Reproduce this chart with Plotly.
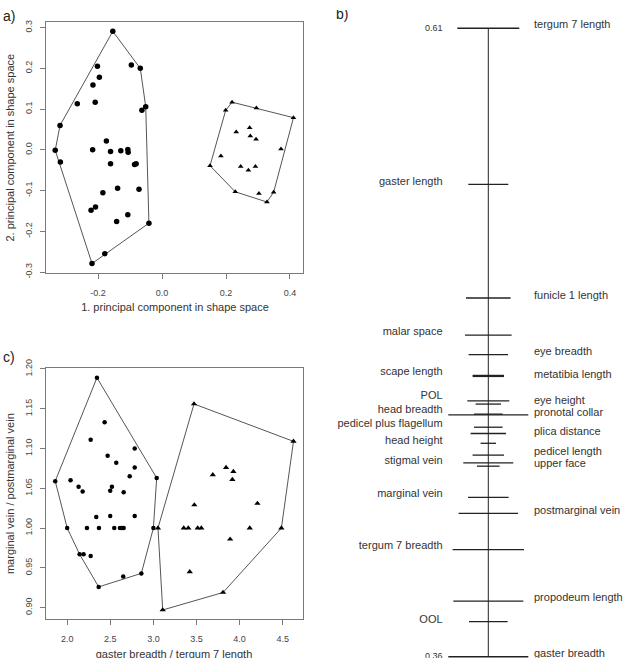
import plotly.graph_objects as go

# ---------------- Panel a: PCA shape space ----------------
a_circ_x = [-0.154, -0.202, -0.096, -0.068, -0.196, -0.216, -0.209, -0.265, -0.051, -0.063,
            -0.319, -0.334, -0.318, -0.217, -0.174, -0.161, -0.129, -0.107, -0.106, -0.161,
            -0.086, -0.081, -0.139, -0.072, -0.185, -0.208, -0.222, -0.107, -0.142, -0.041,
            -0.179, -0.219]
a_circ_y = [0.291, 0.205, 0.208, 0.200, 0.178, 0.159, 0.117, 0.113, 0.106, 0.097,
            0.060, -0.001, -0.030, 0.000, 0.022, -0.004, -0.002, 0.001, -0.006, -0.034,
            -0.036, -0.034, -0.094, -0.097, -0.105, -0.140, -0.148, -0.159, -0.176, -0.180,
            -0.255, -0.279]
a_tri_x = [0.219, 0.295, 0.411, 0.199, 0.274, 0.232, 0.276, 0.294, 0.372, 0.184,
           0.150, 0.246, 0.270, 0.292, 0.229, 0.303, 0.349, 0.328]
a_tri_y = [0.117, 0.103, 0.079, 0.097, 0.054, 0.044, 0.034, 0.026, 0.002, -0.015,
           -0.039, -0.041, -0.050, -0.041, -0.103, -0.107, -0.104, -0.128]
a_xticks = [-0.2, 0.0, 0.2, 0.4]
a_xticklabels = ["-0.2", "0.0", "0.2", "0.4"]
a_yticks = [-0.3, -0.2, -0.1, 0.0, 0.1, 0.2, 0.3]
a_yticklabels = ["-0.3", "-0.2", "-0.1", "0.0", "0.1", "0.2", "0.3"]

# ---------------- Panel c: ratio plot ----------------
c_circ_x = [2.345, 2.434, 2.272, 2.783, 2.469, 2.569, 2.783, 2.725, 3.038, 1.861,
            2.039, 2.132, 2.519, 2.179, 2.499, 2.655, 2.337, 2.499, 2.783, 2.000,
            2.229, 2.368, 2.546, 2.612, 2.635, 2.655, 3.000, 2.144, 2.190, 2.272,
            2.650, 2.860, 2.365]
c_circ_y = [1.189, 1.133, 1.111, 1.100, 1.091, 1.082, 1.076, 1.065, 1.063, 1.059,
            1.060, 1.052, 1.052, 1.046, 1.047, 1.045, 1.014, 1.015, 1.015, 1.000,
            1.000, 1.000, 1.000, 1.000, 1.000, 1.000, 1.000, 0.967, 0.967, 0.965,
            0.939, 0.943, 0.926]
c_tri_x = [3.471, 4.625, 3.843, 3.928, 3.689, 3.916, 4.207, 3.475, 3.053, 3.352,
           3.405, 3.514, 3.556, 4.118, 4.485, 3.890, 3.422, 3.808, 3.108]
c_tri_y = [1.156, 1.109, 1.076, 1.071, 1.067, 1.061, 1.031, 1.029, 1.000, 1.000,
           1.000, 1.000, 1.000, 1.000, 1.000, 0.986, 0.945, 0.919, 0.897]
c_xticks = [2.0, 2.5, 3.0, 3.5, 4.0, 4.5]
c_xticklabels = ["2.0", "2.5", "3.0", "3.5", "4.0", "4.5"]
c_yticks = [0.90, 0.95, 1.00, 1.05, 1.10, 1.15, 1.20]
c_yticklabels = ["0.90", "0.95", "1.00", "1.05", "1.10", "1.15", "1.20"]

# ---------------- Panel b: ladder of variables ----------------
b_names = ["tergum 7 length", "gaster length", "funicle 1 length", "malar space", "eye breadth",
           "scape length", "metatibia length", "POL", "eye height", "head breadth",
           "pronotal collar", "pedicel plus flagellum", "plica distance", "head height",
           "pedicel length", "stigmal vein", "upper face", "marginal vein", "postmarginal vein",
           "tergum 7 breadth", "propodeum length", "OOL", "gaster breadth"]
b_values = [0.610, 0.5479, 0.5027, 0.4879, 0.4802,
            0.4719, 0.4715, 0.4618, 0.4605, 0.4565,
            0.4562, 0.4513, 0.4488, 0.4449,
            0.4402, 0.4371, 0.4358, 0.4234, 0.4170,
            0.4026, 0.3821, 0.3740, 0.360]
b_spread = [31, 20, 22.3, 23.3, 19.7,
            15.7, 15.7, 21, 12.7, 14.3,
            40, 14.3, 17.7, 7.7,
            15.7, 25, 11.3, 20.3, 29.7,
            35.7, 35, 19.3, 40]
b_side = ["R", "L", "R", "L", "R", "L", "R", "L", "R", "L", "R", "L", "R", "L",
          "R", "L", "R", "L", "R", "L", "R", "L", "R"]
b_label_at = [0.6110, 0.5489, 0.5034, 0.4889, 0.4811,
              0.4732, 0.4720, 0.4635, 0.4616, 0.4581,
              0.4568, 0.4523, 0.4491, 0.4458,
              0.4413, 0.4378, 0.4364, 0.4247, 0.4180,
              0.4038, 0.3833, 0.3744, 0.3611]
b_scale_labels = ["0.61", "0.36"]

FONT = "Liberation Sans, Arial, sans-serif"
TXT = "#333333"
FRAME = "#7a7a7a"
HULL = "#555555"
W, H = 625, 664


def hull(xs, ys):
    pts = sorted(set(zip(xs, ys)))

    def cross(o, a, b):
        return (a[0] - o[0]) * (b[1] - o[1]) - (a[1] - o[1]) * (b[0] - o[0])

    lower, upper = [], []
    for p in pts:
        while len(lower) >= 2 and cross(lower[-2], lower[-1], p) <= 0:
            lower.pop()
        lower.append(p)
    for p in reversed(pts):
        while len(upper) >= 2 and cross(upper[-2], upper[-1], p) <= 0:
            upper.pop()
        upper.append(p)
    h = lower[:-1] + upper[:-1]
    h.append(h[0])
    return [p[0] for p in h], [p[1] for p in h]


def pad(vals, f=0.04):
    lo, hi = min(vals), max(vals)
    d = (hi - lo) * f
    return [lo - d, hi + d]


fig = go.Figure()

# Panel a
for xs, ys, sym, sz in [(a_circ_x, a_circ_y, "circle", 5.5), (a_tri_x, a_tri_y, "triangle-up", 5)]:
    hx, hy = hull(xs, ys)
    fig.add_trace(go.Scatter(x=hx, y=hy, mode="lines", line=dict(color=HULL, width=1),
                             xaxis="x", yaxis="y", hoverinfo="skip"))
    fig.add_trace(go.Scatter(x=xs, y=ys, mode="markers",
                             marker=dict(symbol=sym, size=sz, color="black", line=dict(width=0)),
                             xaxis="x", yaxis="y"))

# Panel c
for xs, ys, sym, sz in [(c_circ_x, c_circ_y, "circle", 4.5), (c_tri_x, c_tri_y, "triangle-up", 5.5)]:
    hx, hy = hull(xs, ys)
    fig.add_trace(go.Scatter(x=hx, y=hy, mode="lines", line=dict(color=HULL, width=1),
                             xaxis="x2", yaxis="y2", hoverinfo="skip"))
    fig.add_trace(go.Scatter(x=xs, y=ys, mode="markers",
                             marker=dict(symbol=sym, size=sz, color="black", line=dict(width=0)),
                             xaxis="x2", yaxis="y2"))

# Panel b (x3 axis in pixel-like units, centre line at 0)
seg_x, seg_y = [], []
for v, s in zip(b_values, b_spread):
    seg_x += [-s, s, None]
    seg_y += [v, v, None]
fig.add_trace(go.Scatter(x=seg_x, y=seg_y, mode="lines", line=dict(color="#222222", width=1.3),
                         xaxis="x3", yaxis="y3", hoverinfo="skip"))
fig.add_trace(go.Scatter(x=[0, 0], y=[max(b_values), min(b_values)], mode="lines",
                         line=dict(color="#222222", width=1), xaxis="x3", yaxis="y3"))

LOFF = 45.7
for side, pos in [("L", "middle left"), ("R", "middle right")]:
    names = [n for n, s in zip(b_names, b_side) if s == side]
    ys = [l for l, s in zip(b_label_at, b_side) if s == side]
    fig.add_trace(go.Scatter(x=[(-LOFF if side == "L" else LOFF)] * len(names), y=ys,
                             mode="text", text=names, textposition=pos,
                             textfont=dict(family=FONT, size=11, color=TXT),
                             xaxis="x3", yaxis="y3", cliponaxis=True))
fig.add_trace(go.Scatter(x=[-LOFF, -LOFF], y=[max(b_values), min(b_values)], mode="text",
                         text=b_scale_labels, textposition="middle left",
                         textfont=dict(family=FONT, size=9, color=TXT),
                         xaxis="x3", yaxis="y3", cliponaxis=True))

# Page-level text on a hidden full-page axis (pixel units), clipped to the page
page_text = ["a)", "b)", "c)"]
page_tx = [3, 336, 3]
page_ty = [8, 6, 357]
fig.add_trace(go.Scatter(x=page_tx, y=page_ty, mode="text", text=page_text,
                         textposition="middle right",
                         textfont=dict(family=FONT, size=14, color="#222"),
                         xaxis="x4", yaxis="y4", cliponaxis=True))
title_text = ["1. principal component in shape space", "gaster breadth / tergum 7 length"]
fig.add_trace(go.Scatter(x=[175, 174], y=[306, 661.5], mode="text", text=title_text,
                         textposition="middle center",
                         textfont=dict(family=FONT, size=11, color=TXT),
                         xaxis="x4", yaxis="y4", cliponaxis=True))

ann = []
for t, (x, y) in [("2. principal component in shape space", (10, 141)),
                  ("marginal vein / postmarginal vein", (10, 496))]:
    ann.append(dict(x=x / W, y=1 - y / H, xref="paper", yref="paper", text=t, showarrow=False,
                    textangle=-90, xanchor="center", yanchor="middle",
                    font=dict(family=FONT, size=11, color=TXT)))

axstyle = dict(showline=True, mirror=True, linecolor=FRAME, linewidth=1, ticks="outside",
               ticklen=5, tickcolor=FRAME, showgrid=False, zeroline=False,
               tickfont=dict(family=FONT, size=9, color="#444"))

xa0, xa1 = 45.7 / W, 303 / W
CX = 488.3
fig.update_layout(
    width=W, height=H, margin=dict(l=0, r=0, t=0, b=0),
    paper_bgcolor="white", plot_bgcolor="rgba(0,0,0,0)", showlegend=False,
    xaxis=dict(domain=[xa0, xa1], range=pad(a_circ_x + a_tri_x), tickvals=a_xticks,
               ticktext=a_xticklabels, anchor="y", ticklabelstandoff=6, **axstyle),
    yaxis=dict(domain=[1 - 269.3 / H, 1 - 12.3 / H], range=pad(a_circ_y + a_tri_y),
               tickvals=a_yticks, ticktext=a_yticklabels, tickangle=-90, anchor="x",
               ticklabelstandoff=4, **axstyle),
    xaxis2=dict(domain=[xa0, xa1], range=pad(c_circ_x + c_tri_x), tickvals=c_xticks,
                ticktext=c_xticklabels, anchor="y2", ticklabelstandoff=6, **axstyle),
    yaxis2=dict(domain=[1 - 624.3 / H, 1 - 367.3 / H], range=pad(c_circ_y + c_tri_y),
                tickvals=c_yticks, ticktext=c_yticklabels, tickangle=-90, anchor="x2",
                ticklabelstandoff=4, **axstyle),
    xaxis3=dict(domain=[325 / W, 1], range=[325 - CX, W - CX], visible=False, anchor="y3"),
    yaxis3=dict(domain=[0, 1], range=[0.61 - (H - 18.7) / 2576, 0.61 + 18.7 / 2576],
                visible=False, anchor="x3"),
    xaxis4=dict(domain=[0, 1], range=[0, W], visible=False, anchor="y4"),
    yaxis4=dict(domain=[0, 1], range=[H, 0], visible=False, anchor="x4"),
    annotations=ann,
)

fig.write_html("out.html")
